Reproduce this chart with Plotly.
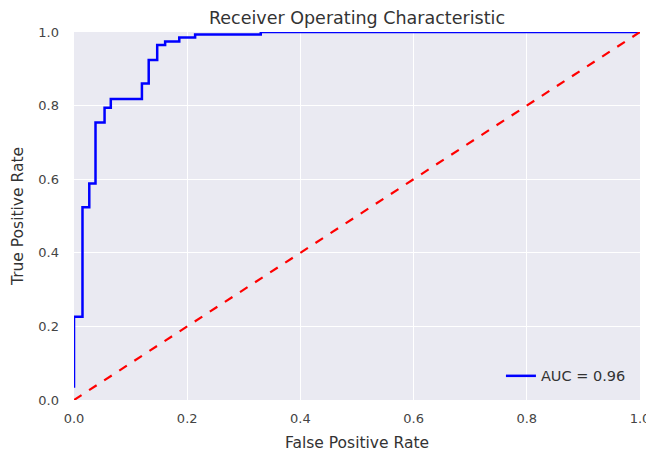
import plotly.graph_objects as go

# ROC curve step points
fpr = [0.0, 0.0, 0.015, 0.015, 0.027, 0.027, 0.038, 0.038, 0.054, 0.054, 0.065, 0.065,
       0.12, 0.12, 0.132, 0.132, 0.147, 0.147, 0.161, 0.161, 0.186, 0.186, 0.214, 0.214,
       0.330, 0.330, 1.0]
tpr = [0.033, 0.226, 0.226, 0.524, 0.524, 0.588, 0.588, 0.754, 0.754, 0.794, 0.794, 0.818,
       0.818, 0.86, 0.86, 0.924, 0.924, 0.965, 0.965, 0.974, 0.974, 0.985, 0.985, 0.993,
       0.993, 1.0, 1.0]
diag_x = [0, 1]
diag_y = [0, 1]
auc_label = "AUC = 0.96"
ticks = [0.0, 0.2, 0.4, 0.6, 0.8, 1.0]
tick_text = ["0.0", "0.2", "0.4", "0.6", "0.8", "1.0"]

fig = go.Figure()
fig.add_trace(go.Scatter(x=fpr, y=tpr, mode="lines", name=auc_label,
                         line=dict(color="#0000FF", width=2.5)))
fig.add_trace(go.Scatter(x=diag_x, y=diag_y, mode="lines", showlegend=False,
                         line=dict(color="#FF0000", width=2.2, dash="dash")))

# page has an 8px body margin, so the figure is sized to fit the window
W, H = 646, 446
font_fam = "DejaVu Sans, Verdana, sans-serif"
fig.update_layout(
    width=W, height=H,
    margin=dict(l=66, r=14, t=24, b=54, autoexpand=False),
    paper_bgcolor="white", plot_bgcolor="#EAEAF2",
    font=dict(family=font_fam, color="#333333", size=13),
    title=dict(text="Receiver Operating Characteristic", x=0.5, xanchor="center",
               xref="paper", y=1 - 10/H, yanchor="middle",
               font=dict(size=17.5, color="#333333")),
    legend=dict(x=0.984, y=0.022, xanchor="right", yanchor="bottom",
                bgcolor="rgba(0,0,0,0)", font=dict(size=14.5, color="#333333")),
    showlegend=True,
)
fig.update_xaxes(range=[0, 1], tickvals=ticks, ticktext=tick_text, showgrid=True,
                 gridcolor="white", gridwidth=1.2, zeroline=False, showline=False,
                 ticks="", automargin=False, ticklabelstandoff=9,
                 title=dict(text="False Positive Rate", font=dict(size=15.5), standoff=12),
                 tickfont=dict(size=13, color="#444444"))
fig.update_yaxes(range=[0, 1], tickvals=ticks, ticktext=tick_text, showgrid=True,
                 gridcolor="white", gridwidth=1.2, zeroline=False, showline=False,
                 ticks="", automargin=False, ticklabelstandoff=14,
                 title=dict(text="True Positive Rate", font=dict(size=15.5), standoff=10),
                 tickfont=dict(size=13, color="#444444"))

fig.write_html("out.html")
